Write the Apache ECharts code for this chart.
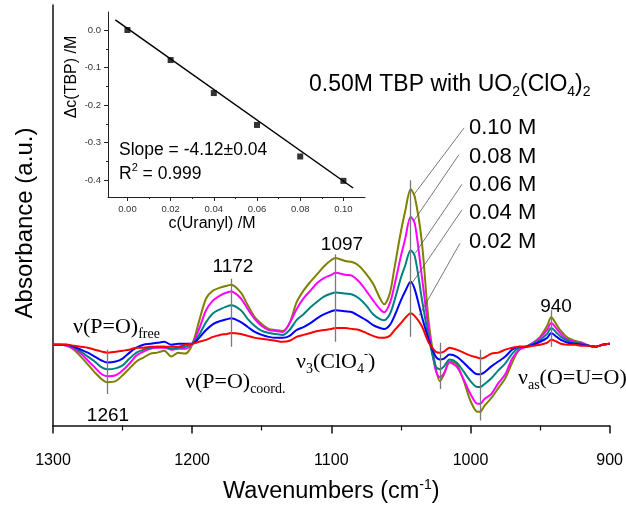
<!DOCTYPE html>
<html><head><meta charset="utf-8">
<script src="https://cdn.jsdelivr.net/npm/echarts@6/dist/echarts.min.js"></script>
<style>html,body{margin:0;padding:0;background:#fff}#c{width:626px;height:509px}</style>
</head><body><div id="c"></div>
<script>
// ---- main spectra (absorbance, arbitrary units) ----
const wavenumbers = [1300,1295,1290,1285,1280,1275,1270,1265,1261,1255,1250,1245,1240,1235,1230,1225,1220,1215,1210,1205,1200,
 1195,1190,1185,1180,1175,1172,1165,1160,1155,1150,1145,1140,1135,1130,1125,1120,1115,1110,1105,1100,
 1097,1090,1085,1080,1075,1070,1065,1062,1058,1055,1050,1047,1043,1040,1035,1030,1025,1022,1019,1015,1010,1005,1000,
 995,993,990,985,980,975,970,965,960,955,950,945,942,938,935,930,925,920,915,910,905,900];
const seriesNames = ['0.02 M','0.04 M','0.06 M','0.08 M','0.10 M'];
const abs002 = [0,0,0,-1,-2,-3,-5,-7,-8,-7,-6,-5,-3,-3,-2,-2,-2,-2,-2,0,1,
 3,5,8,10,11,12,11,9,7,6,5,4,3,4,8,10,12,14,15,16,
 17,17,16,15,12,9,7,7,9,14,22,27,32,29,19,2,-7,-8,-7,-3,-5,-8,-11,
 -13,-14,-13,-9,-8,-5,-3,-2,-2,-1,0,2,5,3,1,0,0,-1,-1,-2,0,1];
const abs004 = [0,0,0,-2,-5,-8,-12,-16,-18,-17,-14,-8,-3,0,1,2,3,0,1,1,1,
 7,15,21,24,26,27,23,18,13,10,8,7,7,9,15,18,22,27,31,34,
 35,34,33,29,25,20,17,16,20,28,45,54,64,56,29,5,-12,-15,-14,-10,-12,-18,-25,
 -30,-30,-28,-22,-17,-12,-5,-2,-2,0,3,7,12,8,5,2,1,0,-1,-2,0,1];
const abs006 = [0,0,0,-3,-7,-12,-17,-23,-25,-24,-21,-14,-8,-5,-3,-2,-2,-4,-3,-2,1,
 10,23,32,36,39,40,35,26,19,14,12,11,10,15,25,31,38,44,49,52,
 53,52,51,47,40,31,26,25,31,43,68,80,96,90,47,7,-22,-25,-22,-15,-18,-27,-37,
 -43,-43,-40,-34,-26,-19,-9,-3,-2,1,5,11,17,12,8,4,2,1,-1,-2,0,1];
const abs008 = [0,0,-1,-4,-9,-16,-23,-30,-32,-31,-26,-19,-11,-7,-4,-3,-3,-5,-4,-4,1,
 16,35,45,50,53,54,47,36,26,19,15,14,13,22,36,47,55,63,68,71,
 73,71,70,64,55,45,36,33,42,58,90,107,130,123,70,15,-26,-33,-29,-18,-22,-35,-50,
 -60,-60,-55,-50,-39,-30,-14,-5,-2,2,7,15,22,16,11,5,3,2,-1,-2,0,1];
const abs010 = [0,0,-1,-5,-12,-20,-28,-35,-38,-37,-31,-24,-17,-13,-9,-8,-6,-12,-8,-9,0,
 24,47,55,58,60,61,53,40,28,21,16,15,14,22,43,55,64,72,80,86,
 88,85,84,80,72,62,47,41,52,75,115,135,158,150,105,23,-23,-37,-30,-17,-20,-36,-57,
 -68,-68,-62,-54,-44,-34,-18,-5,-2,2,8,19,28,20,14,7,4,2,-1,-2,0,1];

// ---- peak marker lines (wavenumber, top value, bottom value) ----
const peakMarkW   = [1261, 1172, 1097, 1043, 1022, 993, 942];
const peakMarkTop = [-5, 67, 92, 167, 2, -5, 35];
const peakMarkBot = [-50, -2, 3, 8, -45, -77, -2];

// ---- legend leader lines (label end -> peak) ----
const leaderFromW = [1007.6, 1006.1, 1006.1, 1008.3, 1004.7];
const leaderFromV = [103, 137, 163, 193, 220];
const leaderToW   = [1036.8, 1041.8, 1039.7, 1041.1, 1040.4];
const leaderToV   = [30, 63, 93, 125, 153];

// ---- inset: concentration change ----
const uranylConc = [0.00, 0.02, 0.04, 0.06, 0.08, 0.10];
const deltaTBP   = [0.000, -0.080, -0.168, -0.253, -0.337, -0.402];
const fitLineX   = [-0.0056, 0.1045];
const fitLineY   = [0.027, -0.421];
const insetXTicks = [0, 0.02, 0.04, 0.06, 0.08, 0.10];
const insetXMinor = [0.01, 0.03, 0.05, 0.07, 0.09];
const insetYTicks = [-0.4, -0.3, -0.2, -0.1, 0];
const insetYMinor = [-0.35, -0.25, -0.15, -0.05];

const colors = ['#ff0000', '#0000ff', '#008080', '#ff00ff', '#808000'];
const allAbs = [abs002, abs004, abs006, abs008, abs010];

const SANS = 'Liberation Sans, Arial, sans-serif';
const SERIF = 'Liberation Serif, Times New Roman, serif';

const chart = echarts.init(document.getElementById('c'), null, {renderer: 'canvas'});

const curveSeries = [4, 3, 2, 1, 0].map(i => ({
  name: seriesNames[i], type: 'line', xAxisIndex: 0, yAxisIndex: 0,
  data: wavenumbers.map((w, k) => [w, allAbs[i][k]]),
  showSymbol: false, smooth: 0.3, silent: true,
  lineStyle: {color: colors[i], width: 2}, itemStyle: {color: colors[i]}, z: 3
}));

function txt(x, y, rich, textStr, align, vAlign, rot) {
  return {type: 'text', x: x, y: y, z: 100, silent: true, rotation: rot || 0,
    style: {text: textStr, rich: rich, align: align || 'left', verticalAlign: vAlign || 'middle', fill: '#000'}};
}
const sansR = (fs) => ({fontSize: fs, fontFamily: SANS, fill: '#000', lineHeight: fs + 4});
const serifR = (fs) => ({fontSize: fs, fontFamily: SERIF, fill: '#000', lineHeight: fs + 4});
const subR = (fs, fam, pad) => ({fontSize: fs, fontFamily: fam, fill: '#000', padding: [pad, 0, 0, 0]});
const supR = (fs, fam, pad) => ({fontSize: fs, fontFamily: fam, fill: '#000', padding: [0, 0, pad, 0]});

const graphics = [
  // main y-axis title
  txt(25, 223, {a: sansR(24)}, '{a|Absorbance (a.u.)}', 'center', 'middle', Math.PI / 2),
  // title
  txt(309, 85, {a: sansR(23), s: subR(14, SANS, 14)}, '{a|0.50M TBP with UO}{s|2}{a|(ClO}{s|4}{a|)}{s|2}'),
  // legend labels
  ...['0.10 M', '0.08 M', '0.06 M', '0.04 M', '0.02 M'].map((t, i) =>
    txt(469, [128, 157, 185, 213, 242][i], {a: sansR(22)}, '{a|' + t + '}')),
  // peak numbers
  txt(108, 416, {a: sansR(19)}, '{a|1261}', 'center'),
  txt(233, 267, {a: sansR(19)}, '{a|1172}', 'center'),
  txt(342, 245, {a: sansR(19)}, '{a|1097}', 'center'),
  txt(556, 307, {a: sansR(19)}, '{a|940}', 'center'),
  // band assignments
  txt(73, 327, {a: serifR(22), s: subR(14, SERIF, 14)}, '{a|ν(P=O)}{s|free}'),
  txt(185, 382, {a: serifR(22), s: subR(14, SERIF, 14)}, '{a|ν(P=O)}{s|coord.}'),
  txt(296, 362, {a: serifR(22), s: subR(14, SERIF, 14), p: supR(12, SERIF, 14)}, '{a|ν}{s|3}{a|(ClO}{s|4}{p|-}{a|)}'),
  txt(518, 378, {a: serifR(22), s: subR(14, SERIF, 14)}, '{a|ν}{s|as}{a|(O=U=O)}'),
  // inset annotations
  txt(119, 150, {a: sansR(17.5)}, '{a|Slope = -4.12±0.04}'),
  txt(119, 174, {a: sansR(17.5), p: supR(11, SANS, 12)}, '{a|R}{p|2}{a| = 0.999}'),
  txt(72, 77, {a: sansR(16)}, '{a|Δc(TBP) /M}', 'center', 'middle', Math.PI / 2),
  txt(212, 224, {a: sansR(16)}, '{a|c(Uranyl) /M}', 'center', 'middle')
];

const option = {
  animation: false,
  backgroundColor: '#ffffff',
  grid: [
    {left: 53, right: 12, top: 5, bottom: 77, containLabel: false},
    {left: 108, top: 12, width: 257, height: 185, containLabel: false}
  ],
  xAxis: [
    {type: 'value', gridIndex: 0, min: 900, max: 1300, interval: 100, inverse: true, position: 'bottom',
     axisLine: {show: true, onZero: false, lineStyle: {color: '#111', width: 1.5}},
     axisTick: {show: true, length: 8, lineStyle: {color: '#111', width: 1.5}},
     minorTick: {show: true, splitNumber: 2, length: 5, lineStyle: {color: '#111', width: 1.2}},
     splitLine: {show: false},
     axisLabel: {fontSize: 16, color: '#000', fontFamily: SANS, margin: 27, formatter: v => String(v)},
     name: '{a|Wavenumbers (cm}{p|-1}{a|)}', nameLocation: 'middle', nameGap: 53,
     nameTextStyle: {rich: {a: {fontSize: 23.5, fontFamily: SANS, color: '#000'}, p: {fontSize: 14, fontFamily: SANS, color: '#000', padding: [0, 0, 13, 0]}}}
    },
    {type: 'value', gridIndex: 1, min: -0.009, max: 0.11, position: 'bottom',
     axisLine: {show: true, onZero: false, lineStyle: {color: '#222', width: 1}},
     axisTick: {show: true, length: 4, customValues: insetXTicks, lineStyle: {color: '#222'}},
     axisLabel: {customValues: insetXTicks, formatter: v => v.toFixed(2), fontSize: 9.5, color: '#333', fontFamily: SANS, margin: 7},
     splitLine: {show: false}
    },
    {type: 'value', gridIndex: 1, min: -0.009, max: 0.11, position: 'bottom',
     axisLine: {show: false, onZero: false}, axisLabel: {show: false}, splitLine: {show: false},
     axisTick: {show: true, length: 2, customValues: insetXMinor, lineStyle: {color: '#222'}}
    }
  ],
  yAxis: [
    {type: 'value', gridIndex: 0, min: -82, max: 345, position: 'left',
     axisLine: {show: true, onZero: false, lineStyle: {color: '#111', width: 1.5}},
     axisTick: {show: false}, axisLabel: {show: false}, splitLine: {show: false}
    },
    {type: 'value', gridIndex: 1, min: -0.445, max: 0.048, position: 'left',
     axisLine: {show: true, onZero: false, lineStyle: {color: '#222', width: 1}},
     axisTick: {show: true, length: 4, customValues: insetYTicks, lineStyle: {color: '#222'}},
     axisLabel: {customValues: insetYTicks, formatter: v => v.toFixed(1), fontSize: 9.5, color: '#333', fontFamily: SANS, margin: 7},
     splitLine: {show: false}
    },
    {type: 'value', gridIndex: 1, min: -0.445, max: 0.048, position: 'left',
     axisLine: {show: false, onZero: false}, axisLabel: {show: false}, splitLine: {show: false},
     axisTick: {show: true, length: 2, customValues: insetYMinor, lineStyle: {color: '#222'}}
    }
  ],
  series: [
    ...curveSeries,
    {type: 'lines', coordinateSystem: 'cartesian2d', xAxisIndex: 0, yAxisIndex: 0, silent: true, z: 4,
     data: peakMarkW.map((w, i) => ({coords: [[w, peakMarkTop[i]], [w, peakMarkBot[i]]]})),
     lineStyle: {color: '#7a7a7a', width: 1.3, opacity: 1}},
    {type: 'lines', coordinateSystem: 'cartesian2d', xAxisIndex: 0, yAxisIndex: 0, silent: true, z: 4,
     data: leaderFromW.map((w, i) => ({coords: [[w, leaderFromV[i]], [leaderToW[i], leaderToV[i]]]})),
     lineStyle: {color: '#555', width: 0.8, opacity: 1}},
    {type: 'line', xAxisIndex: 1, yAxisIndex: 1, silent: true, showSymbol: false, symbol: 'none',
     data: fitLineX.map((x, i) => [x, fitLineY[i]]), lineStyle: {color: '#000', width: 1.5}, z: 5},
    {type: 'scatter', xAxisIndex: 1, yAxisIndex: 1, silent: true, symbol: 'rect', symbolSize: 6,
     data: uranylConc.map((x, i) => [x, deltaTBP[i]]), itemStyle: {color: '#000'}, z: 6}
  ],
  graphic: graphics
};
chart.setOption(option);
</script></body></html>
